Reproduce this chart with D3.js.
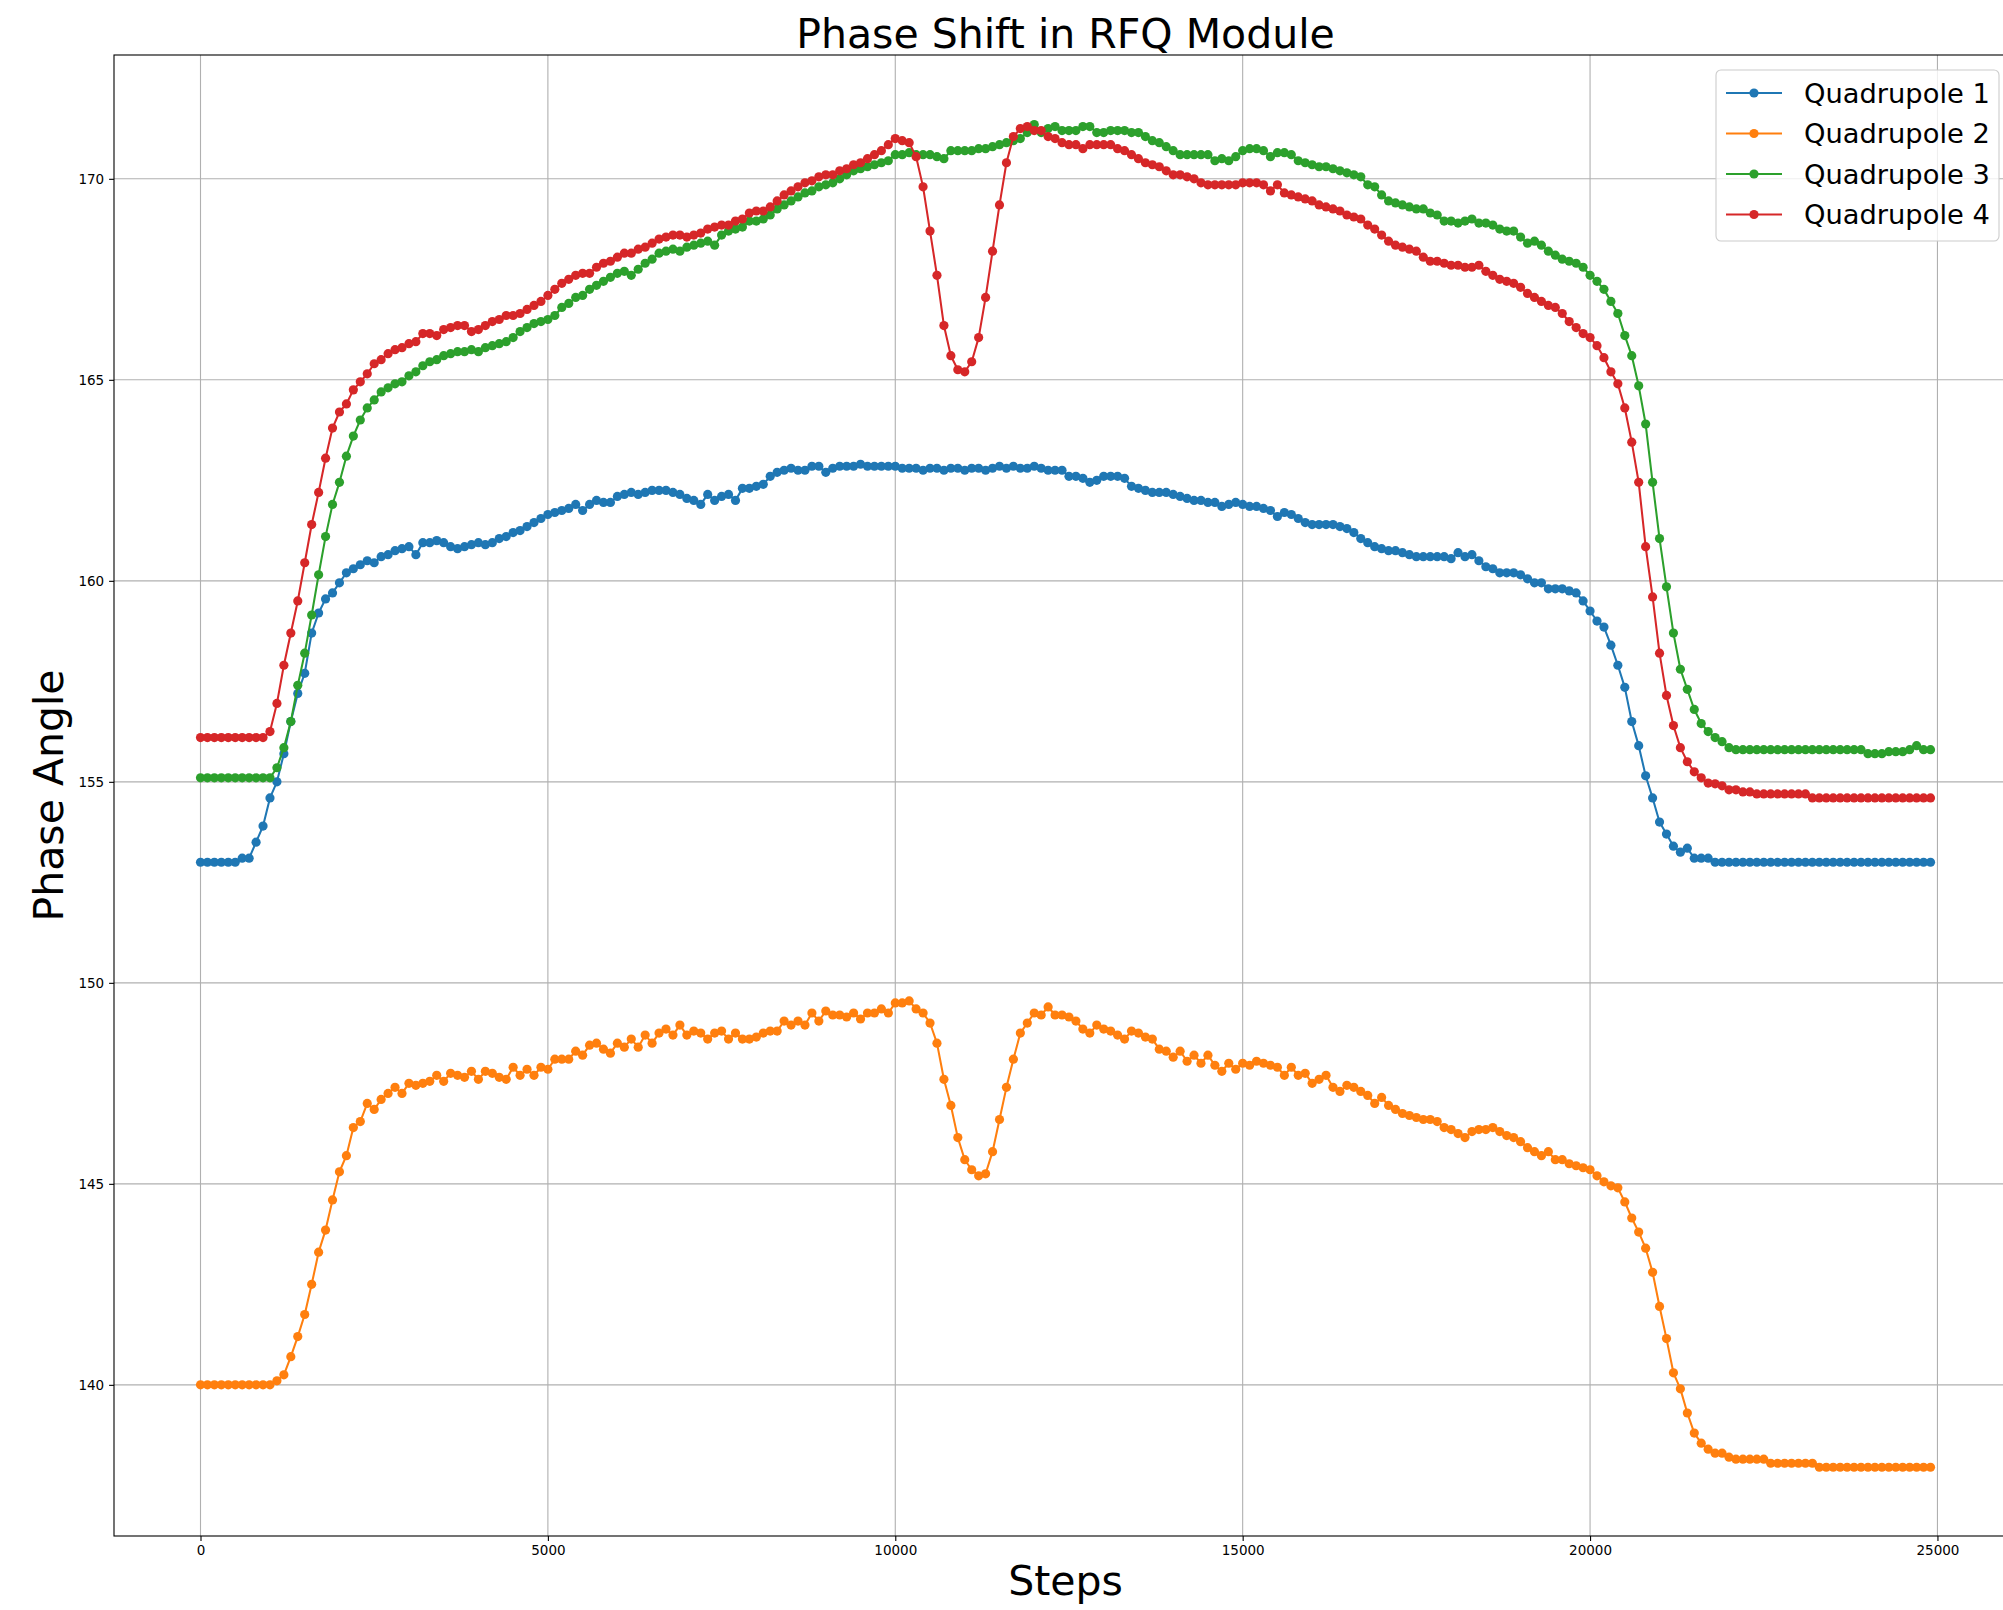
<!DOCTYPE html>
<html>
<head>
<meta charset="utf-8">
<script src="https://cdn.jsdelivr.net/npm/d3@7"></script>
<style>
  html, body { margin: 0; padding: 0; background: #ffffff; }
  svg { display: block; font-family: "DejaVu Sans", sans-serif; }
</style>
</head>
<body>
<svg id="chart" width="2003" height="1610"></svg>
<script>
// ---------------- DATA ----------------
const steps = [
0,100,200,300,400,500,600,700,800,900,
1000,1100,1200,1300,1400,1500,1600,1700,1800,1900,
2000,2100,2200,2300,2400,2500,2600,2700,2800,2900,
3000,3100,3200,3300,3400,3500,3600,3700,3800,3900,
4000,4100,4200,4300,4400,4500,4600,4700,4800,4900,
5000,5100,5200,5300,5400,5500,5600,5700,5800,5900,
6000,6100,6200,6300,6400,6500,6600,6700,6800,6900,
7000,7100,7200,7300,7400,7500,7600,7700,7800,7900,
8000,8100,8200,8300,8400,8500,8600,8700,8800,8900,
9000,9100,9200,9300,9400,9500,9600,9700,9800,9900,
10000,10100,10200,10300,10400,10500,10600,10700,10800,10900,
11000,11100,11200,11300,11400,11500,11600,11700,11800,11900,
12000,12100,12200,12300,12400,12500,12600,12700,12800,12900,
13000,13100,13200,13300,13400,13500,13600,13700,13800,13900,
14000,14100,14200,14300,14400,14500,14600,14700,14800,14900,
15000,15100,15200,15300,15400,15500,15600,15700,15800,15900,
16000,16100,16200,16300,16400,16500,16600,16700,16800,16900,
17000,17100,17200,17300,17400,17500,17600,17700,17800,17900,
18000,18100,18200,18300,18400,18500,18600,18700,18800,18900,
19000,19100,19200,19300,19400,19500,19600,19700,19800,19900,
20000,20100,20200,20300,20400,20500,20600,20700,20800,20900,
21000,21100,21200,21300,21400,21500,21600,21700,21800,21900,
22000,22100,22200,22300,22400,22500,22600,22700,22800,22900,
23000,23100,23200,23300,23400,23500,23600,23700,23800,23900,
24000,24100,24200,24300,24400,24500,24600,24700,24800,24900
];

const quadrupole1 = [
153.0,153.0,153.0,153.0,153.0,153.0,153.1,153.1,153.5,153.9,
154.6,155.0,155.7,156.5,157.2,157.7,158.7,159.2,159.55,159.7,
159.95,160.2,160.3,160.4,160.5,160.45,160.6,160.65,160.75,160.8,
160.85,160.65,160.95,160.95,161.0,160.95,160.85,160.8,160.85,160.9,
160.95,160.9,160.95,161.05,161.1,161.2,161.25,161.35,161.45,161.55,
161.65,161.7,161.75,161.8,161.9,161.75,161.9,162.0,161.95,161.95,
162.1,162.15,162.2,162.15,162.2,162.25,162.25,162.25,162.2,162.15,
162.05,162.0,161.9,162.15,162.0,162.1,162.15,162.0,162.3,162.3,
162.35,162.4,162.6,162.7,162.75,162.8,162.75,162.75,162.85,162.85,
162.7,162.8,162.85,162.85,162.85,162.9,162.85,162.85,162.85,162.85,
162.85,162.8,162.8,162.8,162.75,162.8,162.8,162.75,162.8,162.8,
162.75,162.8,162.8,162.75,162.8,162.85,162.8,162.85,162.8,162.8,
162.85,162.8,162.75,162.75,162.75,162.6,162.6,162.55,162.45,162.5,
162.6,162.6,162.6,162.55,162.35,162.3,162.25,162.2,162.2,162.2,
162.15,162.1,162.05,162.0,162.0,161.95,161.95,161.85,161.9,161.95,
161.9,161.85,161.85,161.8,161.75,161.6,161.7,161.65,161.55,161.45,
161.4,161.4,161.4,161.4,161.35,161.3,161.2,161.05,160.95,160.85,
160.8,160.75,160.75,160.7,160.65,160.6,160.6,160.6,160.6,160.6,
160.55,160.7,160.6,160.65,160.5,160.35,160.3,160.2,160.2,160.2,
160.15,160.05,159.95,159.95,159.8,159.8,159.8,159.75,159.7,159.5,
159.25,159.0,158.85,158.4,157.9,157.35,156.5,155.9,155.15,154.6,
154.0,153.7,153.4,153.25,153.35,153.1,153.1,153.1,153.0,153.0,
153.0,153.0,153.0,153.0,153.0,153.0,153.0,153.0,153.0,153.0,
153.0,153.0,153.0,153.0,153.0,153.0,153.0,153.0,153.0,153.0,
153.0,153.0,153.0,153.0,153.0,153.0,153.0,153.0,153.0,153.0
];

const quadrupole2 = [
140.0,140.0,140.0,140.0,140.0,140.0,140.0,140.0,140.0,140.0,
140.0,140.1,140.25,140.7,141.2,141.75,142.5,143.3,143.85,144.6,
145.3,145.7,146.4,146.55,147.0,146.85,147.1,147.25,147.4,147.25,
147.5,147.45,147.5,147.55,147.7,147.55,147.75,147.7,147.65,147.8,
147.6,147.8,147.75,147.65,147.6,147.9,147.7,147.85,147.7,147.9,
147.85,148.1,148.1,148.1,148.3,148.2,148.45,148.5,148.35,148.25,
148.5,148.4,148.6,148.4,148.7,148.5,148.75,148.85,148.7,148.95,
148.7,148.8,148.75,148.6,148.75,148.8,148.6,148.75,148.6,148.6,
148.65,148.75,148.8,148.8,149.05,148.95,149.05,148.95,149.25,149.05,
149.3,149.2,149.2,149.15,149.25,149.1,149.25,149.25,149.35,149.25,
149.5,149.5,149.55,149.35,149.25,149.0,148.5,147.6,146.95,146.15,
145.6,145.35,145.2,145.25,145.8,146.6,147.4,148.1,148.75,149.0,
149.25,149.2,149.4,149.2,149.2,149.15,149.05,148.85,148.75,148.95,
148.85,148.8,148.7,148.6,148.8,148.75,148.65,148.6,148.35,148.3,
148.15,148.3,148.05,148.2,148.0,148.2,147.95,147.8,148.0,147.85,
148.0,147.95,148.05,148.0,147.95,147.9,147.7,147.9,147.7,147.75,
147.5,147.6,147.7,147.4,147.3,147.45,147.4,147.3,147.2,147.0,
147.15,146.95,146.85,146.75,146.7,146.65,146.6,146.6,146.55,146.4,
146.35,146.25,146.15,146.3,146.35,146.35,146.4,146.3,146.2,146.15,
146.05,145.9,145.8,145.7,145.8,145.6,145.6,145.5,145.45,145.4,
145.35,145.2,145.05,144.95,144.9,144.55,144.15,143.8,143.4,142.8,
141.95,141.15,140.3,139.9,139.3,138.8,138.55,138.4,138.3,138.3,
138.2,138.15,138.15,138.15,138.15,138.15,138.05,138.05,138.05,138.05,
138.05,138.05,138.05,137.95,137.95,137.95,137.95,137.95,137.95,137.95,
137.95,137.95,137.95,137.95,137.95,137.95,137.95,137.95,137.95,137.95
];

const quadrupole3 = [
155.1,155.1,155.1,155.1,155.1,155.1,155.1,155.1,155.1,155.1,
155.1,155.35,155.85,156.5,157.4,158.2,159.15,160.15,161.1,161.9,
162.45,163.1,163.6,164.0,164.3,164.5,164.7,164.8,164.9,164.95,
165.1,165.2,165.35,165.45,165.5,165.6,165.65,165.7,165.7,165.75,
165.7,165.8,165.85,165.9,165.95,166.05,166.2,166.3,166.4,166.45,
166.5,166.6,166.8,166.9,167.05,167.1,167.25,167.35,167.45,167.55,
167.65,167.7,167.6,167.75,167.9,168.0,168.15,168.2,168.25,168.2,
168.3,168.35,168.4,168.45,168.35,168.6,168.7,168.75,168.8,168.95,
168.95,169.0,169.1,169.25,169.35,169.45,169.55,169.65,169.7,169.8,
169.85,169.9,170.0,170.1,170.2,170.25,170.3,170.35,170.4,170.45,
170.6,170.6,170.65,170.6,170.6,170.6,170.55,170.5,170.7,170.7,
170.7,170.7,170.75,170.75,170.8,170.85,170.9,170.95,171.0,171.15,
171.35,171.15,171.25,171.3,171.2,171.2,171.2,171.3,171.3,171.15,
171.15,171.2,171.2,171.2,171.15,171.15,171.05,170.95,170.9,170.8,
170.7,170.6,170.6,170.6,170.6,170.6,170.45,170.5,170.45,170.55,
170.7,170.75,170.75,170.7,170.55,170.65,170.65,170.6,170.45,170.4,
170.35,170.3,170.3,170.25,170.2,170.15,170.1,170.05,169.85,169.8,
169.6,169.45,169.4,169.35,169.3,169.25,169.25,169.15,169.1,168.95,
168.95,168.9,168.95,169.0,168.9,168.9,168.85,168.75,168.7,168.7,
168.55,168.4,168.45,168.35,168.2,168.1,168.0,167.95,167.9,167.8,
167.6,167.45,167.25,166.95,166.65,166.1,165.6,164.85,163.9,162.45,
161.05,159.85,158.7,157.8,157.3,156.8,156.45,156.25,156.1,156.0,
155.85,155.8,155.8,155.8,155.8,155.8,155.8,155.8,155.8,155.8,
155.8,155.8,155.8,155.8,155.8,155.8,155.8,155.8,155.8,155.8,
155.7,155.7,155.7,155.75,155.75,155.75,155.8,155.9,155.8,155.8
];

const quadrupole4 = [
156.1,156.1,156.1,156.1,156.1,156.1,156.1,156.1,156.1,156.1,
156.25,156.95,157.9,158.7,159.5,160.45,161.4,162.2,163.05,163.8,
164.2,164.4,164.75,164.95,165.15,165.4,165.5,165.65,165.75,165.8,
165.9,165.95,166.15,166.15,166.1,166.25,166.3,166.35,166.35,166.2,
166.25,166.35,166.45,166.5,166.6,166.6,166.65,166.75,166.85,166.95,
167.1,167.25,167.4,167.5,167.6,167.65,167.65,167.8,167.9,167.95,
168.05,168.15,168.15,168.25,168.3,168.4,168.5,168.55,168.6,168.6,
168.55,168.6,168.65,168.75,168.8,168.85,168.85,168.95,169.0,169.15,
169.2,169.2,169.3,169.45,169.6,169.7,169.8,169.9,169.95,170.05,
170.1,170.1,170.2,170.25,170.35,170.4,170.5,170.6,170.7,170.85,
171.0,170.95,170.9,170.55,169.8,168.7,167.6,166.35,165.6,165.25,
165.2,165.45,166.05,167.05,168.2,169.35,170.4,171.05,171.25,171.3,
171.2,171.2,171.05,171.0,170.9,170.85,170.85,170.75,170.85,170.85,
170.85,170.85,170.75,170.7,170.6,170.5,170.4,170.35,170.3,170.2,
170.1,170.1,170.05,170.0,169.9,169.85,169.85,169.85,169.85,169.85,
169.9,169.9,169.9,169.85,169.7,169.85,169.65,169.6,169.55,169.5,
169.45,169.35,169.3,169.25,169.2,169.1,169.05,169.0,168.85,168.75,
168.6,168.45,168.35,168.3,168.25,168.2,168.05,167.95,167.95,167.9,
167.85,167.85,167.8,167.8,167.85,167.7,167.6,167.5,167.45,167.4,
167.3,167.15,167.05,166.95,166.85,166.8,166.65,166.45,166.3,166.15,
166.05,165.85,165.55,165.2,164.9,164.3,163.45,162.45,160.85,159.6,
158.2,157.15,156.4,155.85,155.5,155.25,155.1,154.97,154.95,154.9,
154.8,154.8,154.75,154.75,154.7,154.7,154.7,154.7,154.7,154.7,
154.7,154.7,154.6,154.6,154.6,154.6,154.6,154.6,154.6,154.6,
154.6,154.6,154.6,154.6,154.6,154.6,154.6,154.6,154.6,154.6
];

const seriesNames = ["Quadrupole 1", "Quadrupole 2", "Quadrupole 3", "Quadrupole 4"];
const seriesColors = ["#1f77b4", "#ff7f0e", "#2ca02c", "#d62728"];
const xTickValues = [0, 5000, 10000, 15000, 20000, 25000];
const yTickValues = [140, 145, 150, 155, 160, 165, 170];
const titleText = "Phase Shift in RFQ Module";
const xLabelText = "Steps";
const yLabelText = "Phase Angle";

// ---------------- LAYOUT ----------------
const svg = d3.select("#chart");
const plot = { left: 114, right: 2017, top: 55, bottom: 1536 };

const x = d3.scaleLinear().domain([-1245, 26145]).range([plot.left, plot.right]);
const y = d3.scaleLinear().domain([136.24, 173.08]).range([plot.bottom, plot.top]);

const allSeries = [quadrupole1, quadrupole2, quadrupole3, quadrupole4].map((vals, i) => ({
  name: seriesNames[i],
  color: seriesColors[i],
  points: steps.map((s, j) => ({ x: s, y: vals[j] }))
}));

svg.append("defs").append("clipPath").attr("id", "plotclip")
  .append("rect")
  .attr("x", plot.left).attr("y", plot.top)
  .attr("width", plot.right - plot.left).attr("height", plot.bottom - plot.top);

// grid
const grid = svg.append("g").attr("class", "grid");
grid.selectAll("line.gx").data(xTickValues).join("line")
  .attr("x1", d => x(d)).attr("x2", d => x(d))
  .attr("y1", plot.top).attr("y2", plot.bottom)
  .attr("stroke", "#b0b0b0").attr("stroke-width", 1.1);
grid.selectAll("line.gy").data(yTickValues).join("line")
  .attr("x1", plot.left).attr("x2", plot.right)
  .attr("y1", d => y(d)).attr("y2", d => y(d))
  .attr("stroke", "#b0b0b0").attr("stroke-width", 1.1);

// series
const lineGen = d3.line().x(d => x(d.x)).y(d => y(d.y));
const dataG = svg.append("g").attr("clip-path", "url(#plotclip)");
allSeries.forEach(s => {
  const g = dataG.append("g");
  g.append("path").datum(s.points)
    .attr("d", lineGen)
    .attr("fill", "none")
    .attr("stroke", s.color)
    .attr("stroke-width", 2.05)
    .attr("stroke-linejoin", "round")
    .attr("stroke-linecap", "square");
  g.selectAll("circle").data(s.points).join("circle")
    .attr("cx", d => x(d.x)).attr("cy", d => y(d.y))
    .attr("r", 4.6)
    .attr("fill", s.color);
});

// axes
const xAxis = d3.axisBottom(x).tickValues(xTickValues).tickFormat(d3.format("d"))
  .tickSizeInner(4.9).tickSizeOuter(0).tickPadding(4.9);
const yAxis = d3.axisLeft(y).tickValues(yTickValues).tickFormat(d3.format("d"))
  .tickSizeInner(4.9).tickSizeOuter(0).tickPadding(4.9);

const gx = svg.append("g").attr("transform", `translate(0,${plot.bottom})`).call(xAxis);
const gy = svg.append("g").attr("transform", `translate(${plot.left},0)`).call(yAxis);
[gx, gy].forEach(g => {
  g.select(".domain").remove();
  g.selectAll(".tick line").attr("stroke", "#000").attr("stroke-width", 1.1);
  g.selectAll(".tick text").attr("fill", "#000")
    .style("font-family", "'DejaVu Sans', sans-serif").style("font-size", "13.5px");
});

// spines
svg.append("rect")
  .attr("x", plot.left).attr("y", plot.top)
  .attr("width", plot.right - plot.left).attr("height", plot.bottom - plot.top)
  .attr("fill", "none").attr("stroke", "#000").attr("stroke-width", 1.1);

// title & labels
svg.append("text").attr("x", (plot.left + plot.right) / 2).attr("y", 47.5)
  .attr("text-anchor", "middle").style("font-size", "41px").attr("fill", "#000")
  .text(titleText);
svg.append("text").attr("x", (plot.left + plot.right) / 2).attr("y", 1595)
  .attr("text-anchor", "middle").style("font-size", "41px").attr("fill", "#000")
  .text(xLabelText);
svg.append("text")
  .attr("transform", `translate(63,${(plot.top + plot.bottom) / 2}) rotate(-90)`)
  .attr("text-anchor", "middle").style("font-size", "41px").attr("fill", "#000")
  .text(yLabelText);

// legend
const leg = svg.append("g");
leg.append("rect")
  .attr("x", 1716).attr("y", 70).attr("width", 283).attr("height", 171)
  .attr("rx", 5).attr("ry", 5)
  .attr("fill", "#ffffff").attr("fill-opacity", 0.8)
  .attr("stroke", "#cccccc").attr("stroke-width", 1.1);
const rowY = [93, 133.5, 174, 214.5];
allSeries.forEach((s, i) => {
  const ry = rowY[i];
  leg.append("line").attr("x1", 1726).attr("x2", 1782).attr("y1", ry).attr("y2", ry)
    .attr("stroke", s.color).attr("stroke-width", 2.05);
  leg.append("circle").attr("cx", 1754).attr("cy", ry).attr("r", 4.6).attr("fill", s.color);
  leg.append("text").attr("x", 1804).attr("y", ry + 9.8)
    .style("font-size", "27.3px").attr("fill", "#000").text(s.name);
});
</script>
</body>
</html>
